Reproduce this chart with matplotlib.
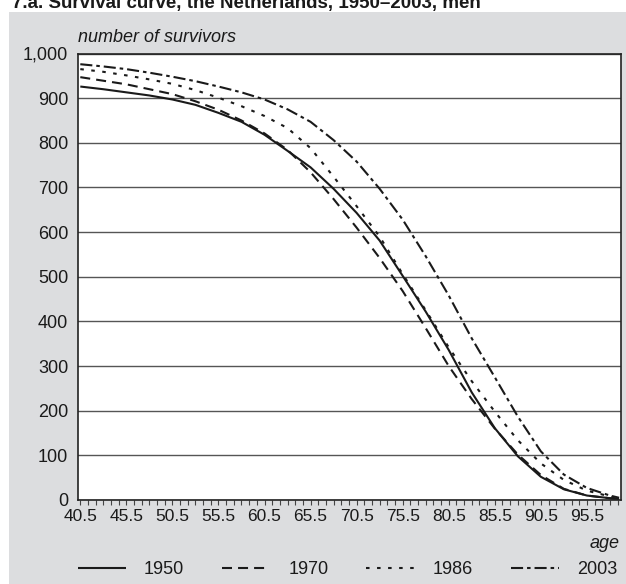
import matplotlib
matplotlib.use('Agg')
import matplotlib.pyplot as plt
from matplotlib.patches import Rectangle
from matplotlib.ticker import FuncFormatter

plt.rcParams['font.family'] = ['Liberation Sans', 'DejaVu Sans']

# ---- data ----
ages = [40.5, 43, 45.5, 48, 50.5, 53, 55.5, 58, 60.5, 63, 65.5, 68, 70.5,
        73, 75.5, 78, 80.5, 83, 85.5, 88, 90.5, 93, 95.5, 98, 99]
s1950 = [926, 920, 913, 906, 897, 885, 867, 847, 818, 782, 745, 697, 643,
         581, 502, 422, 336, 241, 161, 98, 52, 24, 10, 4, 2]
s1970 = [947, 939, 931, 920, 909, 893, 874, 850, 821, 784, 734, 674, 610,
         542, 468, 385, 300, 226, 160, 102, 56, 25, 10, 4, 2]
s1986 = [965, 959, 951, 942, 932, 918, 901, 882, 860, 833, 788, 724, 658,
         590, 506, 425, 342, 266, 198, 134, 82, 45, 21, 8, 4]
s2003 = [976, 971, 965, 957, 948, 938, 926, 913, 897, 875, 847, 806, 758,
         697, 628, 546, 458, 362, 275, 187, 109, 57, 27, 10, 5]
series_labels = ['1950', '1970', '1986', '2003']
xtick_labels = ['40.5', '45.5', '50.5', '55.5', '60.5', '65.5', '70.5',
                '75.5', '80.5', '85.5', '90.5', '95.5']
yticks = [0, 100, 200, 300, 400, 500, 600, 700, 800, 900, 1000]
title = '7.a. Survival curve, the Netherlands, 1950\u20132003, men'

W, H = 626, 584
txt = '#1a1a1a'
fig = plt.figure(figsize=(W / 100, H / 100), dpi=100)
fig.patch.set_facecolor('white')
fig.add_artist(Rectangle((9 / W, 0), 1 - 9 / W, 1 - 12 / H, transform=fig.transFigure,
                         facecolor='#dcdddf', edgecolor='none', zorder=0))

fig.text(12 / W, 1 - 8 / H, title, fontsize=13.5, fontweight='bold', color=txt,
         ha='left', va='baseline')

ax = fig.add_axes([78 / W, 84 / H, (620.5 - 78) / W, (500 - 53.5) / H])
ax.set_facecolor('white')

styles = [
    dict(linestyle='-'),
    dict(linestyle=(0, (4.8, 2.9))),
    dict(linestyle=(0, (1.7, 3.6))),
    dict(linestyle=(0, (5.8, 1.9, 1.7, 1.9))),
]
handles = []
for vals, lab, st in zip([s1950, s1970, s1986, s2003], series_labels, styles):
    ln, = ax.plot(ages, vals, color='#1a1a1a', lw=1.5, label=lab,
                  solid_capstyle='butt', dash_capstyle='butt', **st)
    handles.append(ln)

ax.set_xlim(40.25, 99.15)
ax.set_ylim(0, 1000)
ax.set_xticks([float(t) for t in xtick_labels])
ax.set_xticklabels(xtick_labels)
ax.set_xticks([40.5 + k * 5 / 6 for k in range(71)], minor=True)
ax.set_yticks(yticks)
ax.yaxis.set_major_formatter(FuncFormatter(lambda v, p: f'{int(v):,}'))

ax.tick_params(axis='x', which='both', direction='out', length=3.3, width=0.8,
               color='#444444', pad=3.5, labelsize=12.5, labelcolor=txt)
ax.tick_params(axis='y', which='both', length=0, pad=7, labelsize=13, labelcolor=txt)

ax.yaxis.grid(True, color='#555555', lw=1.0)
ax.set_axisbelow(True)
for side in ['left', 'bottom', 'top', 'right']:
    ax.spines[side].set_color('#222222')
    ax.spines[side].set_linewidth(1.2)

fig.text(78 / W, 1 - 42 / H, 'number of survivors', fontsize=13, style='italic',
         color=txt, ha='left', va='baseline')
fig.text(620 / W, 1 - 548 / H, 'age', fontsize=13, style='italic',
         color=txt, ha='right', va='baseline')

fig.legend(handles, series_labels, loc='center', bbox_to_anchor=(347.5 / W, 14 / H),
           ncol=4, frameon=False, handlelength=2.66, handletextpad=1.0,
           columnspacing=2.1, fontsize=13, labelcolor=txt)

fig.savefig('out.png', dpi=100, facecolor=fig.get_facecolor())
